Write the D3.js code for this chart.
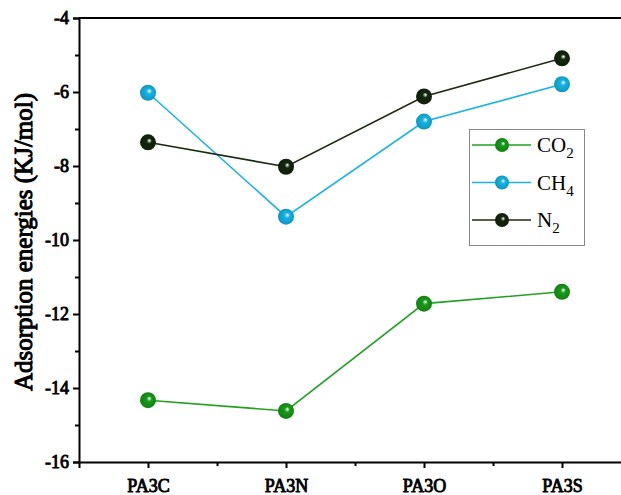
<!DOCTYPE html>
<html>
<head>
<meta charset="utf-8">
<script src="https://cdn.jsdelivr.net/npm/d3@7"></script>
<style>
  body { margin: 0; background: #fff; }
  text { font-family: "Liberation Serif", "Times New Roman", Tinos, serif; }
</style>
</head>
<body>
<div id="chart"></div>
<script>
const categories = ["PA3C", "PA3N", "PA3O", "PA3S"];
const co2 = [-14.33, -14.62, -11.72, -11.40];
const ch4 = [-6.02, -9.37, -6.80, -5.79];
const n2 = [-7.36, -8.02, -6.12, -5.09];
const yTicks = [-16, -14, -12, -10, -8, -6, -4];

const series = [
  {name: "CO", sub: "2", values: co2, line: "#22a122", dot: "#179a17"},
  {name: "CH", sub: "4", values: ch4, line: "#1ab4e4", dot: "#14b4e6"},
  {name: "N", sub: "2", values: n2, line: "#1b2a12", dot: "#13250c"}
];

var width = 621, height = 495;
const svg = d3.select("#chart").append("svg")
  .attr("width", width)
  .attr("height", height);

const x = d3.scaleLinear().domain([0.5, 4.5]).range([79, 631]);
const y = d3.scaleLinear().domain([-16, -4]).range([462, 18]);

// bold serif face is not installed, so thicken the regular one with a stroke
const fauxBold = sel => sel
  .attr("font-weight", "normal")
  .attr("fill", "#000")
  .attr("stroke", "#000")
  .attr("stroke-width", 0.9)
  .attr("stroke-linejoin", "round");

// gradients for the shiny balls
const defs = svg.append("defs");
series.forEach((s, i) => {
  const g = defs.append("radialGradient")
    .attr("id", `ball-${i}`)
    .attr("cx", "0.5").attr("cy", "0.5").attr("r", "0.55")
    .attr("fx", "0.6").attr("fy", "0.38");
  g.append("stop").attr("offset", "0").attr("stop-color", "#ffffff");
  g.append("stop").attr("offset", "0.3").attr("stop-color", s.dot);
  g.append("stop").attr("offset", "1").attr("stop-color", d3.color(s.dot).darker(0.6));
});

// axes
svg.append("g")
  .attr("transform", "translate(79,0)")
  .call(d3.axisLeft(y).tickValues(yTicks).tickSize(6).tickPadding(4).tickFormat(d => String(d)));
svg.append("g")
  .attr("transform", "translate(79,0)")
  .call(d3.axisLeft(y).tickValues(d3.range(-15, -4, 2)).tickSize(4).tickFormat(""))
  .select(".domain").remove();

svg.append("g")
  .attr("transform", "translate(0,462)")
  .call(d3.axisBottom(x).tickValues([1, 2, 3, 4]).tickSize(6).tickPadding(11)
    .tickFormat(d => categories[d - 1]));
svg.append("g")
  .attr("transform", "translate(0,462)")
  .call(d3.axisBottom(x).tickValues([1.5, 2.5, 3.5]).tickSize(4).tickFormat(""))
  .select(".domain").remove();

svg.selectAll(".domain").attr("stroke-width", 2).attr("stroke", "#000");
svg.selectAll(".tick line").attr("stroke-width", 2).attr("stroke", "#000");
svg.selectAll(".tick text")
  .attr("font-size", 18)
  .call(fauxBold);

// top frame line
svg.append("line")
  .attr("x1", 79).attr("x2", width)
  .attr("y1", 18).attr("y2", 18)
  .attr("stroke", "#000").attr("stroke-width", 2);

// y label
svg.append("text")
  .attr("transform", `translate(32,242) rotate(-90)`)
  .attr("text-anchor", "middle")
  .attr("font-size", 25)
  .call(fauxBold)
  .attr("stroke-width", 1.05)
  .text("Adsorption energies (KJ/mol)");

// lines and markers
const line = d3.line().x((d, i) => x(i + 1)).y(d => y(d));
series.forEach((s, i) => {
  svg.append("path")
    .attr("d", line(s.values))
    .attr("fill", "none")
    .attr("stroke", s.line)
    .attr("stroke-width", 1.6);
  svg.append("g").selectAll("circle")
    .data(s.values)
    .join("circle")
    .attr("cx", (d, j) => x(j + 1))
    .attr("cy", d => y(d))
    .attr("r", 8)
    .attr("fill", `url(#ball-${i})`);
});

// legend
const legend = svg.append("g");
legend.append("rect")
  .attr("x", 469.5).attr("y", 129.5)
  .attr("width", 115).attr("height", 116)
  .attr("fill", "#fff")
  .attr("stroke", "#888").attr("stroke-width", 1);
series.forEach((s, i) => {
  const ly = 145 + i * 37.5;
  legend.append("line")
    .attr("x1", 472).attr("x2", 531)
    .attr("y1", ly).attr("y2", ly)
    .attr("stroke", s.line).attr("stroke-width", 1.6);
  legend.append("circle")
    .attr("cx", 502).attr("cy", ly).attr("r", 7)
    .attr("fill", `url(#ball-${i})`);
  const t = legend.append("text")
    .attr("x", 537).attr("y", ly + 7)
    .attr("font-size", 21)
    .attr("fill", "#000");
  t.append("tspan").text(s.name);
  t.append("tspan").attr("dy", 6).attr("font-size", 15).text(s.sub);
});
</script>
</body>
</html>
